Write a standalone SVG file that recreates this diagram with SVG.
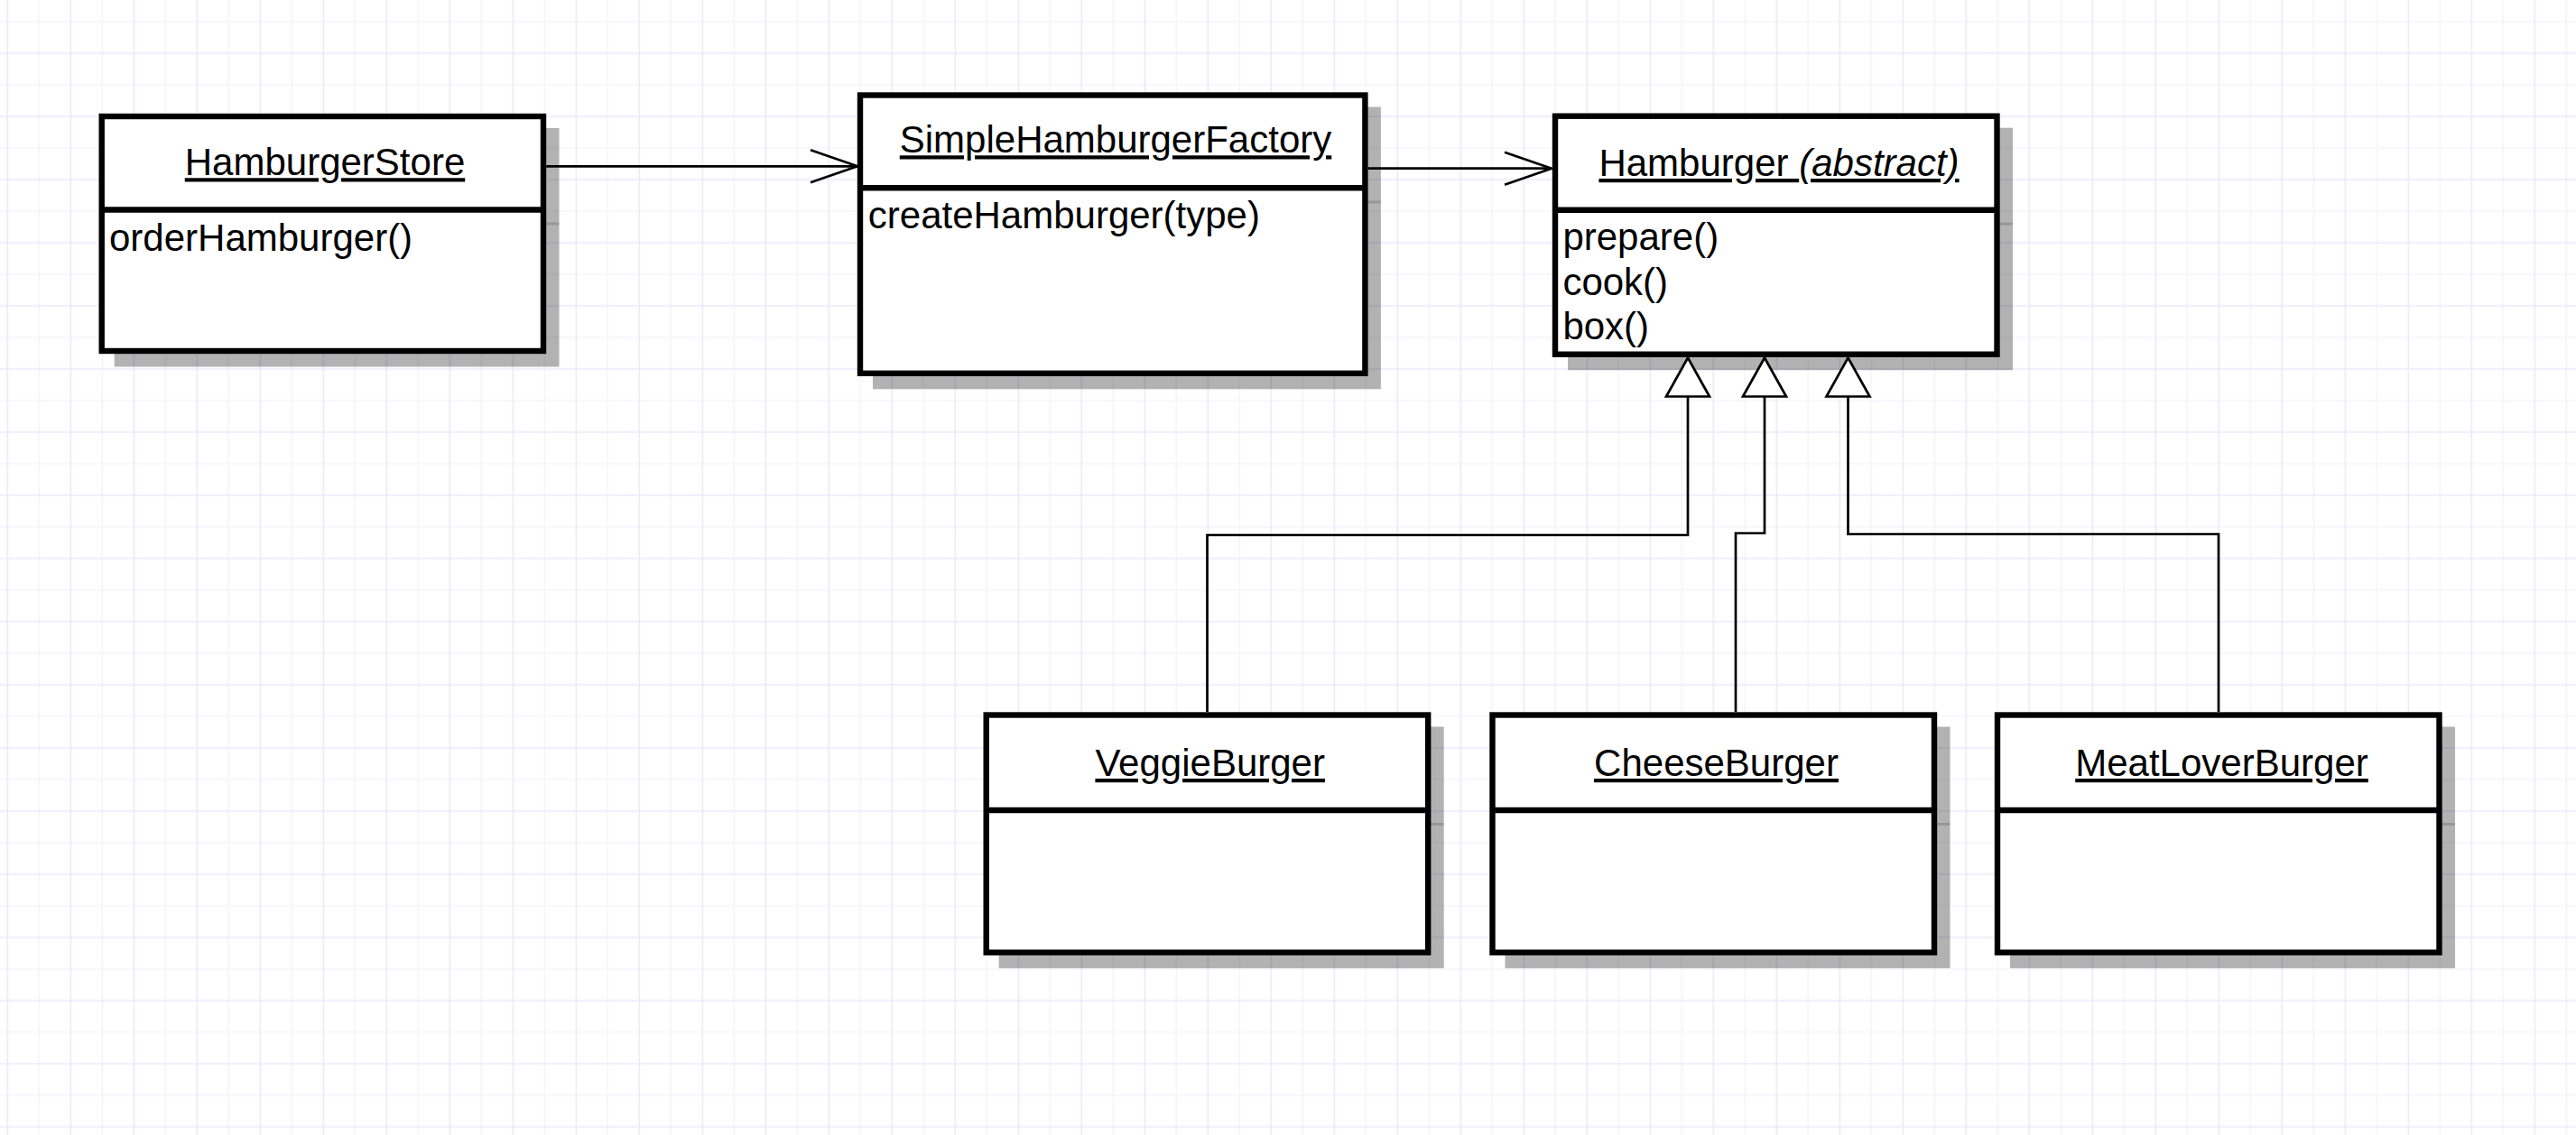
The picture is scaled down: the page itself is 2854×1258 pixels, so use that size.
<svg xmlns="http://www.w3.org/2000/svg" width="2854" height="1258" viewBox="0 0 2854 1258">
<style>
  .box { fill: #ffffff; stroke: #000000; stroke-width: 6.4; }
  .div { stroke: #000000; stroke-width: 6.4; }
  .shadow { fill: #000000; fill-opacity: 0.3; }
  .shdiv { stroke: #000000; stroke-opacity: 0.15; stroke-width: 3; }
  .title { font-family: "Liberation Sans", Arial, sans-serif; font-size: 42px; fill: #000000; text-anchor: middle; text-decoration: underline; }
  .member { font-family: "Liberation Sans", Arial, sans-serif; font-size: 42px; fill: #000000; }
  .conn { fill: none; stroke: #000000; stroke-width: 2.7; stroke-linejoin: miter; }
</style>
<defs>
  <pattern id="grid" patternUnits="userSpaceOnUse" x="-9.2" y="41.5" width="70" height="70">
    <path d="M52.5,0 V70 M0,52.5 H70" stroke="#f4f3fc" stroke-width="1.5" fill="none"/>
    <path d="M17.5,0 V70 M0,17.5 H70" stroke="#e9e7fa" stroke-width="1.5" fill="none"/>
  </pattern>
  <marker id="open" markerUnits="userSpaceOnUse" markerWidth="60" markerHeight="40" refX="52" refY="18" orient="auto" overflow="visible">
    <path d="M0,0 L52,18 L0,36" fill="none" stroke="#000000" stroke-width="2.7"/>
  </marker>
  <marker id="tri" markerUnits="userSpaceOnUse" markerWidth="50" markerHeight="50" refX="43" refY="24" orient="auto" overflow="visible">
    <path d="M0,0 L43,24 L0,48 Z" fill="#ffffff" stroke="#000000" stroke-width="2.7"/>
  </marker>
</defs>
<rect x="0" y="0" width="2854" height="1258" fill="#ffffff"/>
<rect x="0" y="0" width="2854" height="1258" fill="url(#grid)"/>

<g id="hamburger-store">
  <rect class="shadow" x="126.7" y="142" width="492.8" height="264.5"/>
  <line class="shdiv" x1="602" y1="248" x2="619.5" y2="248"/>
  <rect class="box" x="112.7" y="129" width="489.3" height="260"/>
  <line class="div" x1="112.7" y1="232.5" x2="602" y2="232.5"/>
  <text class="title" x="360" y="194.3">HamburgerStore</text>
  <text class="member" x="121" y="278.3">orderHamburger()</text>
</g>

<g id="simple-hamburger-factory">
  <rect class="shadow" x="967" y="118.5" width="562.9" height="312.8"/>
  <line class="shdiv" x1="1512.4" y1="224" x2="1529.9" y2="224"/>
  <rect class="box" x="953" y="105.5" width="559.4" height="308.3"/>
  <line class="div" x1="953" y1="208.3" x2="1512.4" y2="208.3"/>
  <text class="title" x="1236" y="169.3">SimpleHamburgerFactory</text>
  <text class="member" x="961.8" y="253.3">createHamburger(type)</text>
</g>

<g id="hamburger">
  <rect class="shadow" x="1737" y="141.7" width="493" height="268.5"/>
  <line class="shdiv" x1="2212.5" y1="248.2" x2="2230" y2="248.2"/>
  <rect class="box" x="1723" y="128.7" width="489.5" height="264"/>
  <line class="div" x1="1723" y1="232.7" x2="2212.5" y2="232.7"/>
  <text class="title" x="1971" y="195">Hamburger <tspan font-style="italic">(abstract)</tspan></text>
  <text class="member" x="1731.4" y="277">prepare()</text>
  <text class="member" x="1731.4" y="326.5">cook()</text>
  <text class="member" x="1731.4" y="376">box()</text>
</g>

<g id="veggie-burger">
  <rect class="shadow" x="1106.7" y="805.5" width="493" height="267.7"/>
  <line class="shdiv" x1="1582.2" y1="913.5" x2="1599.7" y2="913.5"/>
  <rect class="box" x="1092.7" y="792.5" width="489.5" height="263.2"/>
  <line class="div" x1="1092.7" y1="898" x2="1582.2" y2="898"/>
  <text class="title" x="1340.7" y="860">VeggieBurger</text>
</g>

<g id="cheese-burger">
  <rect class="shadow" x="1667.5" y="805.5" width="493" height="267.7"/>
  <line class="shdiv" x1="2143" y1="913.5" x2="2160.5" y2="913.5"/>
  <rect class="box" x="1653.5" y="792.5" width="489.5" height="263.2"/>
  <line class="div" x1="1653.5" y1="898" x2="2143" y2="898"/>
  <text class="title" x="1901.5" y="860">CheeseBurger</text>
</g>

<g id="meat-lover-burger">
  <rect class="shadow" x="2227" y="805.5" width="493" height="267.7"/>
  <line class="shdiv" x1="2702.5" y1="913.5" x2="2720" y2="913.5"/>
  <rect class="box" x="2213" y="792.5" width="489.5" height="263.2"/>
  <line class="div" x1="2213" y1="898" x2="2702.5" y2="898"/>
  <text class="title" x="2461.5" y="860">MeatLoverBurger</text>
</g>

<g id="connectors">
  <path class="conn" d="M605.2,184.3 H950" marker-end="url(#open)"/>
  <path class="conn" d="M1515.6,186.7 H1719" marker-end="url(#open)"/>
  <path class="conn" d="M1337.5,789 V593 H1870 V396.5" marker-end="url(#tri)"/>
  <path class="conn" d="M1923,789 V591 H1955 V396.5" marker-end="url(#tri)"/>
  <path class="conn" d="M2458,789 V592 H2047.5 V396.5" marker-end="url(#tri)"/>
</g>
</svg>
